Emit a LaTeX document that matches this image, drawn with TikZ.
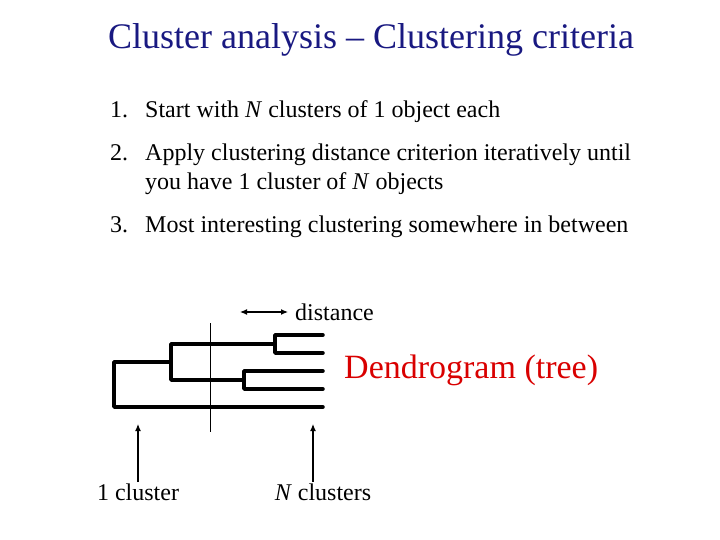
\documentclass[tikz,border=0pt]{standalone}
\usepackage{fontspec}
\setmainfont{Liberation Serif}
\usetikzlibrary{arrows.meta}
\begin{document}
\begin{tikzpicture}[x=1pt,y=-1pt,
  tree/.style={line width=3.5pt,line cap=round,line join=round},
  txt/.style={inner sep=0pt,anchor=base west,font=\fontsize{24}{28}\selectfont},
  arr/.style={line width=1.2pt,-{Latex[length=7pt,width=6pt]}}]
\useasboundingbox (0,0) rectangle (720,540);
\node[inner sep=0pt,anchor=base,font=\fontsize{36}{40}\selectfont,text=blue!45!black!90] (title) at (371,49) {Cluster analysis -- Clustering criteria};
\node[txt] (n1) at (110,118) {1.};
\node[txt] (t1) at (145,118) {Start with \textit{N} clusters of 1 object each};
\node[txt] (n2) at (110,161) {2.};
\node[txt] (t2) at (145,161) {Apply clustering distance criterion iteratively until};
\node[txt] (t2b) at (145,190) {you have 1 cluster of \textit{N} objects};
\node[txt] (n3) at (110,233) {3.};
\node[txt] (t3) at (145,233) {Most interesting clustering somewhere in between};
% dendrogram
\coordinate (l1) at (323,335); \coordinate (l2) at (323,353);
\coordinate (l3) at (323,371); \coordinate (l4) at (323,389);
\coordinate (l5) at (323,407);
\draw[tree] (l1) -- (275,335) -- (275,353) -- (l2);
\draw[tree] (l3) -- (244,371) -- (244,389) -- (l4);
\draw[tree] (275,344) -- (171,344) -- (171,380) -- (244,380);
\draw[tree] (171,362) -- (114,362) -- (114,407) -- (l5);
\coordinate (cutA) at (210,323); \coordinate (cutB) at (210,432);
\draw[line width=0.8pt] (cutA) -- (cutB);
\coordinate (dA) at (240,312); \coordinate (dB) at (288,312);
\draw[line width=1.2pt,{Latex[length=7pt,width=6pt]}-{Latex[length=7pt,width=6pt]}] (dA) -- (dB);
\node[txt] (dist) at (295,320) {distance};
\node[inner sep=0pt,anchor=base west,font=\fontsize{34}{38}\selectfont,text=red!85!black] (dendro) at (344,378) {Dendrogram (tree)};
\node[txt,anchor=base] (one) at (138,500) {1 cluster};
\node[txt,anchor=base] (nc) at (323,500) {\textit{N} clusters};
\coordinate (a1) at (138,482); \coordinate (a1t) at (138,424);
\coordinate (a2) at (313,482); \coordinate (a2t) at (313,424);
\draw[arr] (a1) -- (a1t);
\draw[arr] (a2) -- (a2t);
\end{tikzpicture}
\end{document}
